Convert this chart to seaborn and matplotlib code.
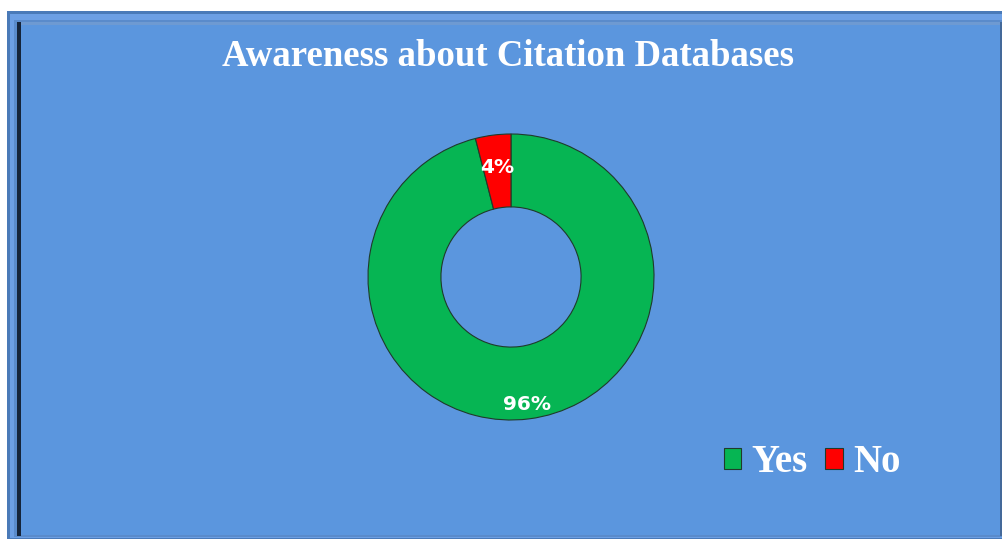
import matplotlib
matplotlib.use("Agg")
import matplotlib.pyplot as plt
import seaborn as sns
from matplotlib.patches import Rectangle

# ==============================
# DATA
# ==============================
categories = ["Yes", "No"]
shares = [96, 4]
colors = ["#06B553", "#FF0000"]
title = "Awareness about Citation Databases"

# ==============================
# STYLE
# ==============================
sns.set_theme(style="white")
plt.rcParams['font.family'] = ['DejaVu Sans']

W, H = 1003, 539
fig = plt.figure(figsize=(W / 100, H / 100), dpi=100)
fig.patch.set_facecolor("white")

# background axes in pixel units for the chart frame
bg = fig.add_axes([0, 0, 1, 1], zorder=-1)
bg.set_xlim(0, W)
bg.set_ylim(H, 0)
bg.axis("off")


def box(x0, y0, x1, y1, c):
    bg.add_patch(Rectangle((x0, y0), x1 - x0, y1 - y0, facecolor=c, edgecolor="none"))


box(7, 11, W, H, "#4A7AB8")        # outer bevel
box(10, 14, W, H - 1, "#6C9FE4")   # light bevel
box(14, 20, W, H - 2, "#5A8BCB")
box(17, 22, 21, H - 3, "#15243A")  # dark left edge
box(21, 22, W - 3, 25, "#6E9AD2")  # light line under the top bevel
box(21, 25, W - 3, H - 4, "#5B96DE")  # panel
box(W - 3, 22, W - 1, H - 3, "#44699A")

# ==============================
# DONUT
# ==============================
R = 143
cx, cy = 511, 277
ax = fig.add_axes([(cx - R) / W, (H - cy - R) / H, 2 * R / W, 2 * R / H])
ax.set_facecolor("none")

wedges, texts, autotexts = ax.pie(
    shares, colors=colors, startangle=90, counterclock=False,
    radius=1.0, autopct="%d%%", pctdistance=0.77,
    wedgeprops=dict(width=0.51, edgecolor="#1f3b2a", linewidth=0.8),
    textprops=dict(color="white", fontsize=14.5, fontweight="bold"))
# push the big label a bit outwards like the original
x, y = autotexts[0].get_position()
autotexts[0].set_position((x * 1.17, y * 1.17))
ax.set_xlim(-1, 1)
ax.set_ylim(-1, 1)
ax.set_aspect("auto")
ax.axis("off")

fig.text(508 / W, 1 - 56 / H, title, ha="center", va="center", color="white",
         fontsize=26.5, fontweight="bold", family=["Liberation Serif"])

leg = fig.legend(wedges, categories, loc="center", bbox_to_anchor=(812 / W, 1 - 463 / H),
                 ncol=2, frameon=False, handlelength=0.46, handleheight=0.46,
                 handletextpad=0.26, columnspacing=0.44,
                 prop=dict(family="Liberation Serif", weight="bold", size=28))
for t in leg.get_texts():
    t.set_color("white")

fig.savefig("out.png", dpi=100, facecolor=fig.get_facecolor())
